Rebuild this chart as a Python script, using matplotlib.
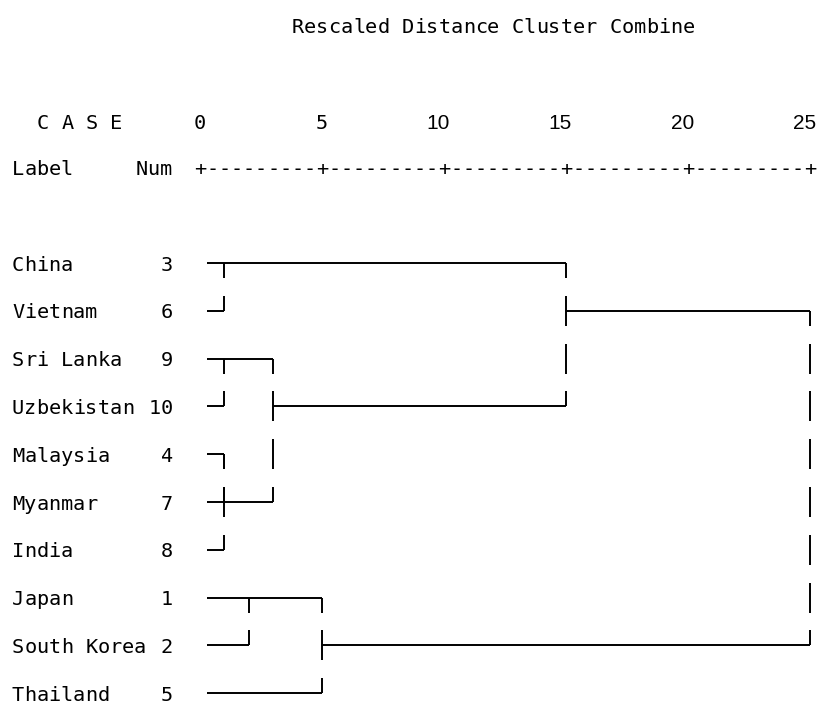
import matplotlib
matplotlib.use("Agg")
import matplotlib.pyplot as plt

# ---------------- data ----------------
labels = ["China", "Vietnam", "Sri Lanka", "Uzbekistan", "Malaysia",
          "Myanmar", "India", "Japan", "South Korea", "Thailand"]
case_nums = [3, 6, 9, 10, 4, 7, 8, 1, 2, 5]

# agglomeration schedule (case numbers) with rescaled distances
merge_c1 = [4, 4, 9, 3, 1, 4, 1, 3, 1]
merge_c2 = [7, 8, 10, 6, 2, 9, 5, 4, 3]
merge_dist = [1, 1, 1, 1, 2, 3, 5, 15, 25]

axis_ticks = [0, 5, 10, 15, 20, 25]
title = "Rescaled Distance Cluster Combine"

# ---------------- layout ----------------
W, H = 819, 704
PX_UNIT = 24.4     # pixels per distance unit
X0_PX = 200        # pixel of distance 0
ROW_PX = 47.8      # pixels per row
Y0_PX = 263        # pixel of first row
CW = 12.2          # character cell width in pixels
HALF = 15 / ROW_PX # half height of a character-cell vertical
LEAF_START = 0.3
BASE_OFF = 7.5     # baseline offset below text centre (px)

def px2x(px):
    return (px - X0_PX) / PX_UNIT

def py2y(py):
    return (py - Y0_PX) / ROW_PX

fig = plt.figure(figsize=(W / 100, H / 100), dpi=100)
ax = fig.add_axes([0, 0, 1, 1])
ax.set_xlim(px2x(0), px2x(W))
ax.set_ylim(py2y(H), py2y(0))
ax.axis("off")

FONT = "DejaVu Sans Mono"
FS = 14.6
LW = 1.4
col = "black"


def mono_text(s, left_px, centre_py, align="left", family=FONT):
    """Draw a string on a fixed character grid (like a console font)."""
    if align == "right":
        left_px = left_px - len(s) * CW
    base = py2y(centre_py + BASE_OFF)
    for j, ch in enumerate(s):
        if ch == " ":
            continue
        ax.text(px2x(left_px + (j + 0.5) * CW), base, ch, family=family,
                fontsize=FS, ha="center", va="baseline", color=col)


# title and headers
mono_text(title, 292, 25)
mono_text("C A S E", 37, 121)
mono_text("Label", 12, 167)
mono_text("Num", 172, 167, align="right")

for t in axis_ticks:
    s = str(t)
    if t < 10:
        mono_text(s, X0_PX + t * PX_UNIT + CW / 2, 121, align="right")
    else:
        ax.text(t + 6 / PX_UNIT, py2y(121 + BASE_OFF), s, family="Liberation Sans",
                fontsize=FS + 0.4, ha="right", va="baseline", color=col)

# axis line made of + and - characters
n_chars = int(axis_ticks[-1] * 2)
axis_str = "".join("+" if k % 10 == 0 else "-" for k in range(n_chars + 1))
mono_text(axis_str, X0_PX - CW / 2, 167)

# row labels
for i, (lab, num) in enumerate(zip(labels, case_nums)):
    ypx = Y0_PX + i * ROW_PX
    mono_text(lab, 12, ypx)
    mono_text(str(num), 173, ypx, align="right")

# ---------------- dendrogram ----------------
clusters = {}
for i, num in enumerate(case_nums):
    clusters[num] = {"rep": i, "start": LEAF_START}

for s in range(len(merge_dist)):
    a, b, d = merge_c1[s], merge_c2[s], merge_dist[s]
    ca, cb = clusters[a], clusters[b]
    for c in (ca, cb):
        ax.plot([c["start"], d], [c["rep"], c["rep"]], color=col, lw=LW,
                solid_capstyle="butt")
    lo, hi = sorted((ca["rep"], cb["rep"]))
    for r in range(lo, hi + 1):
        top = r if r == lo else r - HALF
        bot = r if r == hi else r + HALF
        ax.plot([d, d], [top, bot], color=col, lw=LW, solid_capstyle="butt")
    new_rep = (ca["rep"] + cb["rep"]) // 2
    clusters[a] = {"rep": new_rep, "start": d}
    del clusters[b]

fig.savefig("out.png", dpi=100, facecolor="white")
